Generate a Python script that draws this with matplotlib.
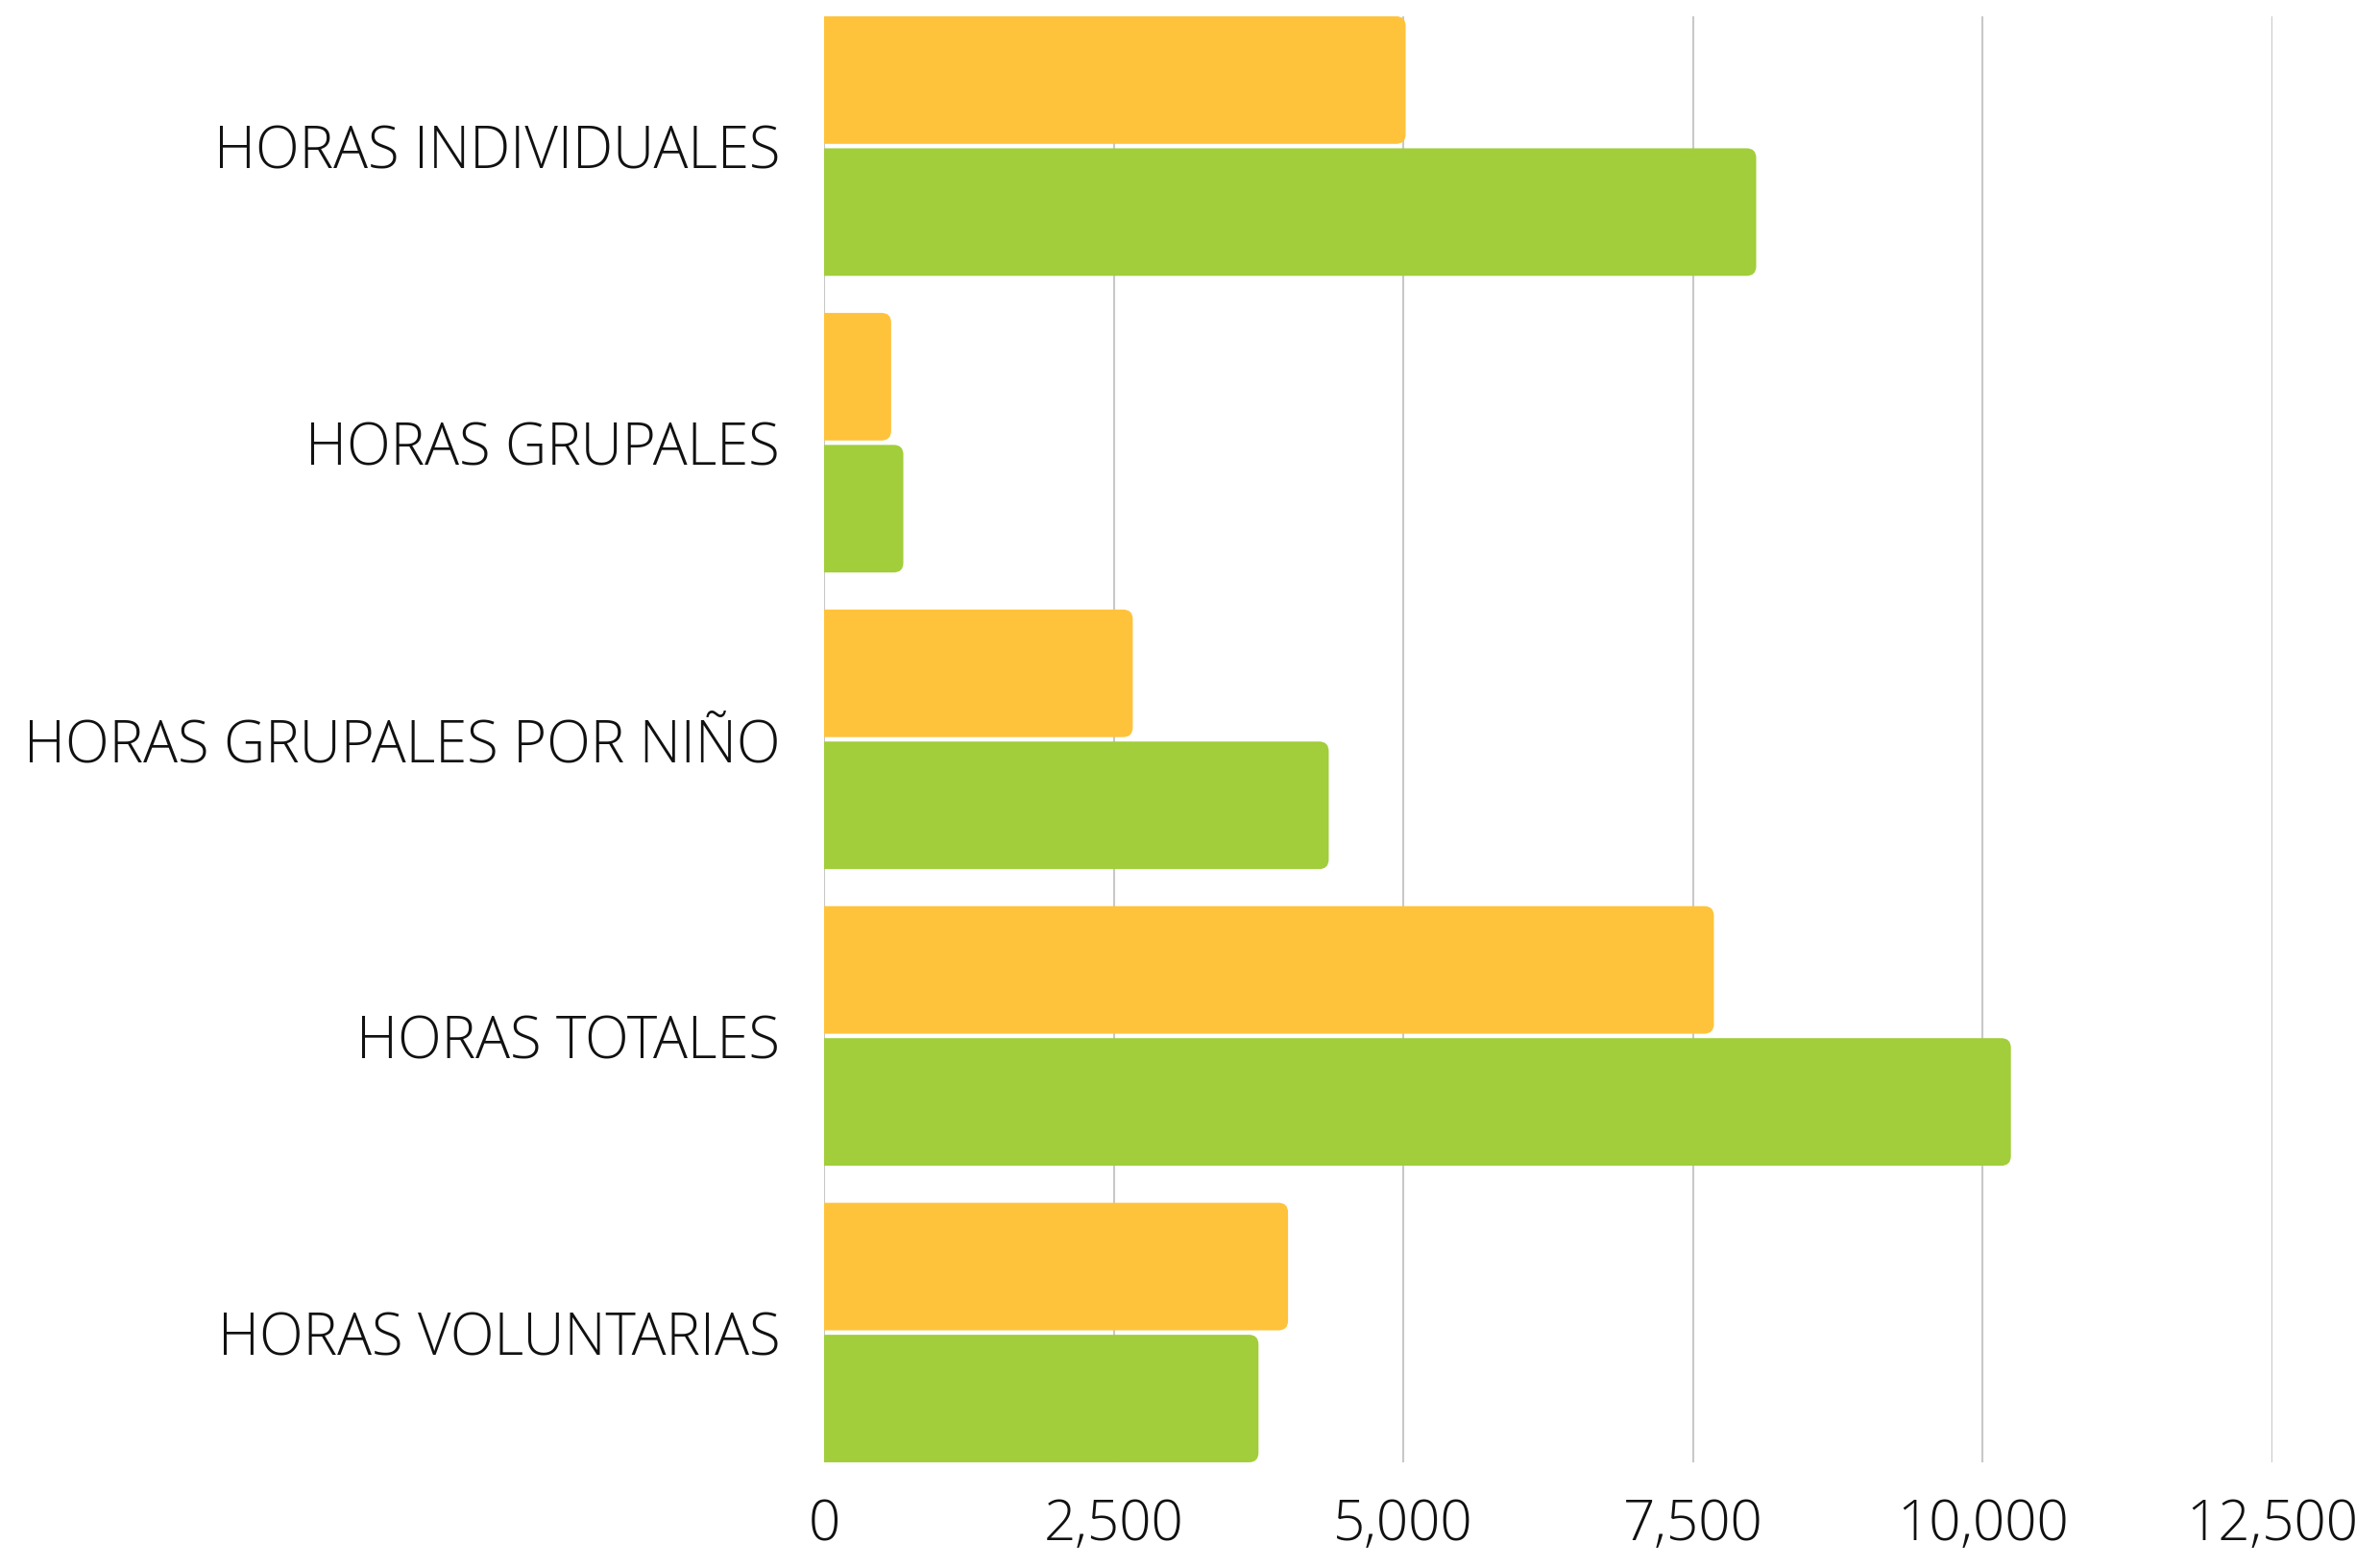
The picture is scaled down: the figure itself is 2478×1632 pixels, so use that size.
import numpy as np
import matplotlib
matplotlib.use('Agg')
import matplotlib.pyplot as plt
from matplotlib.patches import FancyBboxPatch
import matplotlib.ticker as ticker

# datos
categorias = ['HORAS INDIVIDUALES', 'HORAS GRUPALES', 'HORAS GRUPALES POR NIÑO',
              'HORAS TOTALES', 'HORAS VOLUNTARIAS']
serie_naranja = [5020, 580, 2665, 7680, 4005]
serie_verde = [8045, 685, 4356, 10243, 3750]
ticks_x = [0, 2500, 5000, 7500, 10000, 12500]

color_naranja = '#FFC33B'
color_verde = '#A1CE3A'

plt.rcParams['font.family'] = ['Open Sans', 'DejaVu Sans']
plt.rcParams['font.weight'] = 'light'

fig = plt.figure(figsize=(24.78, 16.32), dpi=100)
ax = fig.add_axes([0.3462, 0.0668, 0.6086, 0.9228])

xmax = 12500
ymin, ymax = -0.4375, 4.4375
ax.set_xlim(0, xmax)
ax.set_ylim(ymax, ymin)

alto = 0.43
desp = 0.2225
y = np.arange(len(categorias))

# radio de las esquinas en pixeles -> unidades de datos
ancho_px = 0.6086 * 2478
alto_px = 0.9228 * 1632
rx = 10 * xmax / ancho_px
ry = 10 * (ymax - ymin) / alto_px
aspecto = ry / rx

def barra(x0, yc, valor, color):
    p = FancyBboxPatch((x0 - 2 * rx, yc - alto / 2), valor + 2 * rx, alto,
                       boxstyle='round,pad=0,rounding_size=%f' % rx,
                       mutation_aspect=aspecto, facecolor=color,
                       edgecolor='none', zorder=3, clip_on=True)
    ax.add_patch(p)

for i in range(len(categorias)):
    barra(0, y[i] - desp, serie_naranja[i], color_naranja)
    barra(0, y[i] + desp, serie_verde[i], color_verde)

ax.set_yticks(y)
ax.set_yticklabels(categorias, fontsize=43)
ax.set_xticks(ticks_x)
ax.xaxis.set_major_formatter(ticker.FuncFormatter(lambda v, p: '{:,.0f}'.format(v)))

ax.grid(axis='x', color='#C8C8C8', linewidth=1.5, zorder=0)
ax.set_axisbelow(True)
for s in ax.spines.values():
    s.set_visible(False)
ax.tick_params(axis='both', length=0, colors='#111111')
ax.tick_params(axis='x', labelsize=42, pad=26)
ax.tick_params(axis='y', labelsize=43, pad=33)

fig.savefig('out.png', dpi=100)
